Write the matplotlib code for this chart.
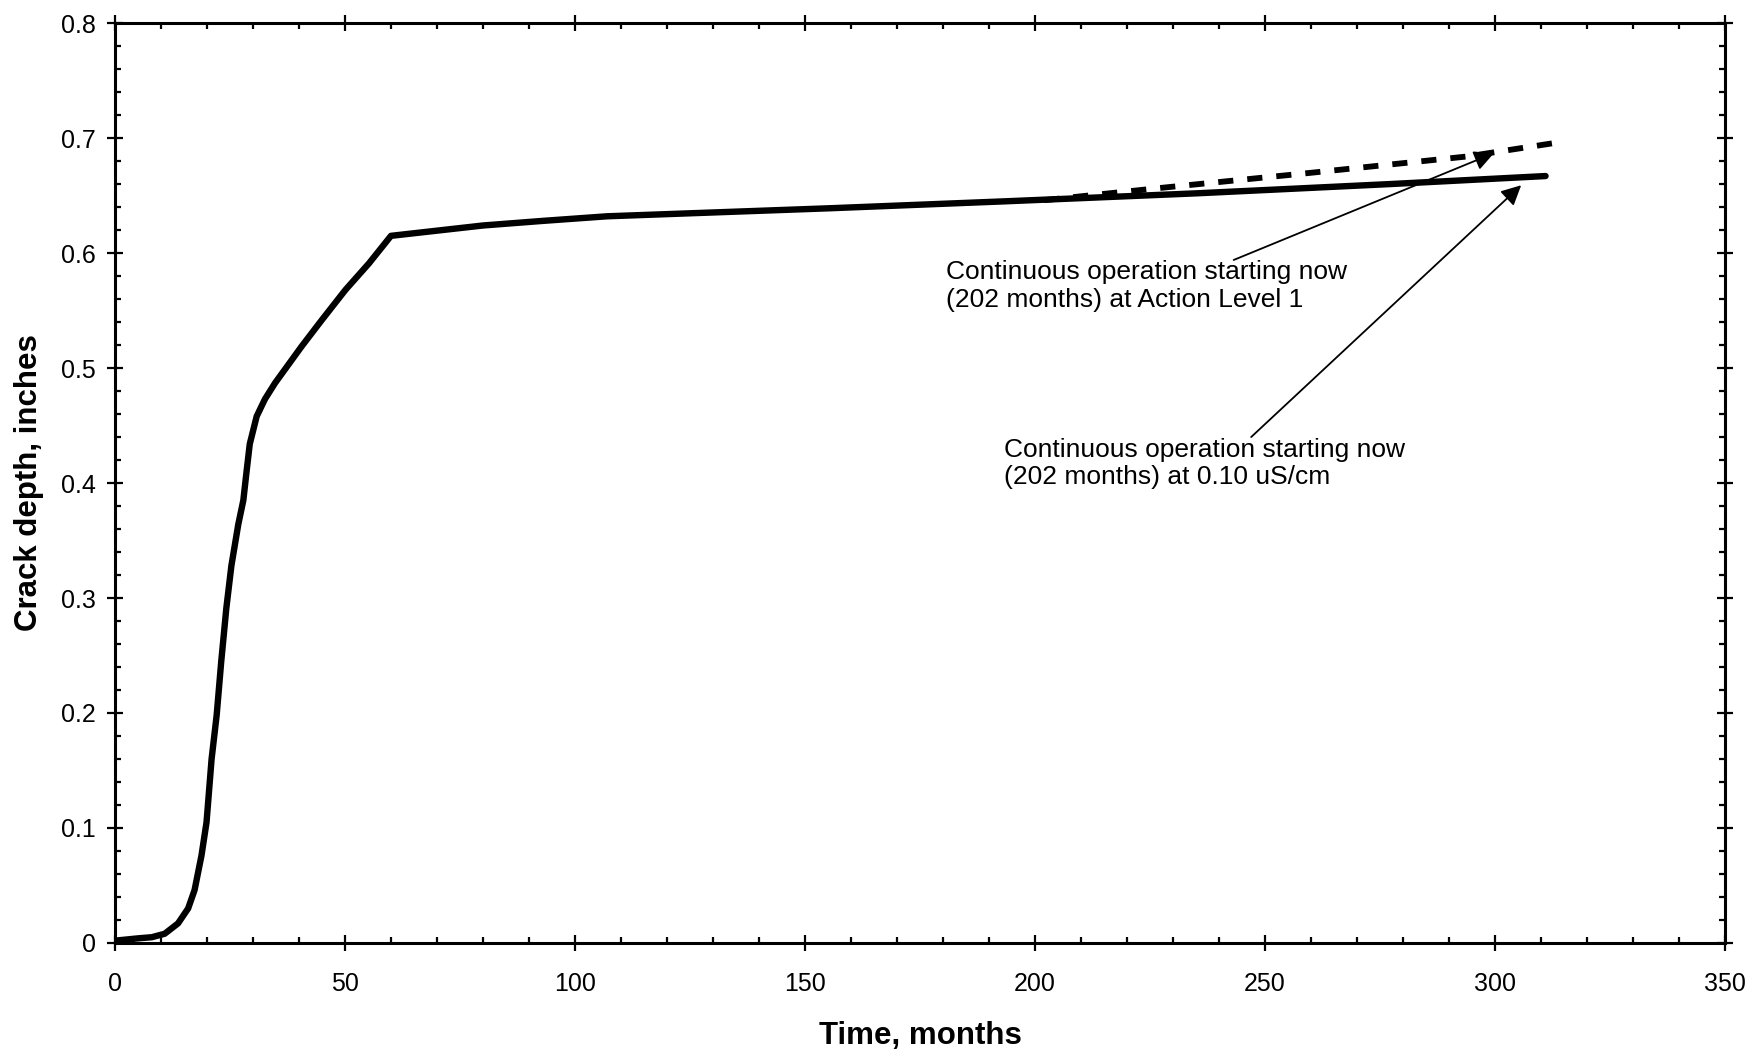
import numpy as np
import matplotlib
matplotlib.use("Agg")
import matplotlib.pyplot as plt
from matplotlib.ticker import MultipleLocator, FuncFormatter

plt.rcParams['font.family'] = ['Liberation Sans', 'DejaVu Sans']

# crack growth curve
months = [0, 5, 8, 10.8, 13.7, 15.9, 17.3, 18.8, 19.9, 21.0, 22.1, 23.1, 24.2,
          25.3, 26.8, 27.9, 28.6, 29.3, 30.8, 32.6, 34.8, 40.6, 45.0, 50.1,
          55.2, 60.0, 80, 93, 107, 155.5, 193.4, 235.3, 277.1, 311]
depth = [0.002, 0.004, 0.005, 0.008, 0.017, 0.030, 0.046, 0.076, 0.105, 0.160,
         0.198, 0.245, 0.291, 0.328, 0.364, 0.385, 0.410, 0.434, 0.458, 0.473,
         0.487, 0.519, 0.542, 0.568, 0.591, 0.615, 0.624, 0.628, 0.632, 0.639,
         0.645, 0.652, 0.660, 0.667]

# action level 1 projection (dashed)
al1_months = [202, 226.9, 260.4, 293.9, 315]
al1_depth = [0.646, 0.6565, 0.670, 0.684, 0.697]

label_al1 = "Continuous operation starting now\n(202 months) at Action Level 1"
label_cond = "Continuous operation starting now\n(202 months) at 0.10 uS/cm"

fig = plt.figure(figsize=(17.53, 10.51), dpi=100)
ax = fig.add_axes([0.0656, 0.1028, 0.9184, 0.8752])

ax.plot(months, depth, color='black', lw=4.6, solid_capstyle='round',
        solid_joinstyle='round')
ax.plot(al1_months, al1_depth, color='black', lw=4.2, dashes=(2.6, 2.4))

ax.set_xlim(0, 350)
ax.set_ylim(0, 0.8)
ax.xaxis.set_major_locator(MultipleLocator(50))
ax.xaxis.set_minor_locator(MultipleLocator(10))
ax.yaxis.set_major_locator(MultipleLocator(0.1))
ax.yaxis.set_minor_locator(MultipleLocator(0.02))
ax.yaxis.set_major_formatter(FuncFormatter(lambda v, p: '0' if abs(v) < 1e-9 else '%.1f' % v))

ax.tick_params(which='both', top=True, right=True, width=1.6, color='black')
ax.tick_params(which='major', direction='inout', length=11.5, labelsize=18)
ax.tick_params(which='minor', direction='in', length=4.5)
ax.tick_params(axis='x', which='major', pad=15)
ax.tick_params(axis='y', which='major', pad=8)
for s in ax.spines.values():
    s.set_linewidth(2.2)

ax.set_xlabel("Time, months", fontsize=22.5, fontweight='bold', labelpad=18)
ax.set_ylabel("Crack depth, inches", fontsize=22.5, fontweight='bold', labelpad=12)

ax.text(180.7, 0.5715, label_al1, fontsize=19, ha='left', va='center',
        linespacing=1.2)
ax.text(193.3, 0.417, label_cond, fontsize=19, ha='left', va='center',
        linespacing=1.2)

arrow = dict(arrowstyle='-|>', lw=1.3, color='black', mutation_scale=30,
             shrinkA=0, shrinkB=0)
ax.annotate('', xy=(299.8, 0.687), xytext=(243.2, 0.594), arrowprops=arrow)
ax.annotate('', xy=(305.7, 0.659), xytext=(247.0, 0.440), arrowprops=arrow)

fig.savefig("out.png", dpi=100)
